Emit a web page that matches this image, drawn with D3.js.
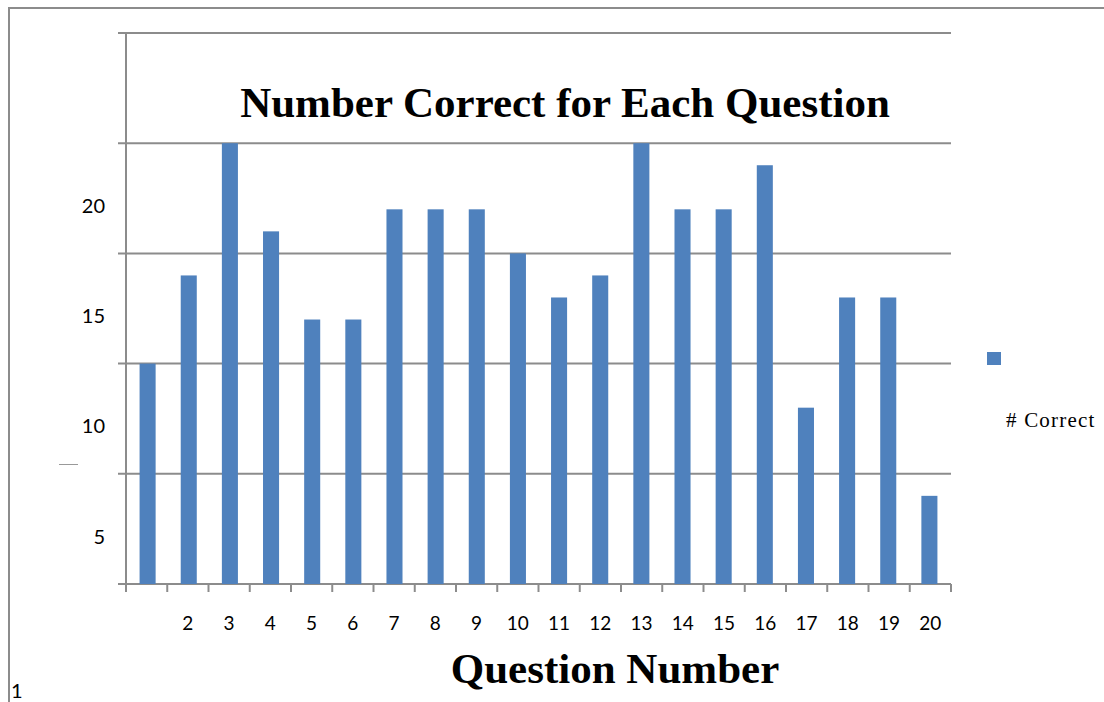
<html>
<head>
    <meta charset="utf-8">
    <style>
        body { margin: 0; background: white; }
        svg { display: block; }
    </style>
    <script src="https://d3js.org/d3.v7.min.js"></script>
</head>
<body>
    <svg id="chart"></svg>
<script>
    // DATA
    let questions = d3.range(1, 21)
    let numCorrect = [10, 14, 20, 16, 12, 12, 17, 17, 17, 15, 13, 14, 20, 17, 17, 19, 8, 13, 13, 4]
    let gridValues = [0, 5, 10, 15, 20, 25]
    let yTickLabels = [5, 10, 15, 20]
    let xTickLabels = ["", "2", "3", "4", "5", "6", "7", "8", "9", "10", "11", "12", "13", "14", "15", "16", "17", "18", "19", "20"]

    let width = 1104, height = 702
    let margin = { top: 33, left: 126, right: 153, bottom: 118 }
    let bodyWidth = width - margin.left - margin.right
    let bodyHeight = height - margin.top - margin.bottom
    let tickFont = "Lato, Open Sans, sans-serif"

    let svg = d3.select("#chart").attr("width", width).attr("height", height)

    // outer frame (top and left edges only visible)
    svg.append("line").attr("x1", 8).attr("x2", width).attr("y1", 8).attr("y2", 8)
        .attr("stroke", "#8c8c8c").attr("stroke-width", 2)
    svg.append("line").attr("x1", 9).attr("x2", 9).attr("y1", 8).attr("y2", height)
        .attr("stroke", "#8c8c8c").attr("stroke-width", 2)

    let xScale = d3.scaleBand().domain(questions).range([0, bodyWidth]).paddingInner(0.61).paddingOuter(0.33)
    let xTicks = d3.scaleLinear().domain([0, 20]).range([0, bodyWidth])
    let yScale = d3.scaleLinear().domain([0, 25]).range([bodyHeight, 0])

    let body = svg.append("g").attr("transform", `translate(${margin.left},${margin.top})`)

    // gridlines
    body.selectAll(".grid").data(gridValues).enter().append("line")
        .attr("x1", -8).attr("x2", bodyWidth)
        .attr("y1", d => yScale(d)).attr("y2", d => yScale(d))
        .attr("stroke", "#8c8c8c").attr("stroke-width", 2)

    // y axis line
    body.append("line").attr("x1", 0).attr("x2", 0).attr("y1", 0).attr("y2", bodyHeight + 8)
        .attr("stroke", "#8c8c8c").attr("stroke-width", 2)

    // x ticks
    body.selectAll(".xtick").data(d3.range(0, 21)).enter().append("line")
        .attr("x1", d => xTicks(d)).attr("x2", d => xTicks(d))
        .attr("y1", bodyHeight).attr("y2", bodyHeight + 8)
        .attr("stroke", "#8c8c8c").attr("stroke-width", 2)

    // bars
    body.selectAll(".bar").data(numCorrect).enter().append("rect")
        .attr("x", (d, i) => xScale(questions[i]))
        .attr("width", xScale.bandwidth())
        .attr("y", d => yScale(d))
        .attr("height", d => bodyHeight - yScale(d))
        .attr("fill", "#4f81bd")

    // x labels
    body.selectAll(".xlab").data(xTickLabels).enter().append("text")
        .attr("x", (d, i) => xTicks(i + 0.5))
        .attr("y", bodyHeight + 46)
        .attr("text-anchor", "middle")
        .attr("font-family", tickFont)
        .attr("font-size", 19)
        .text(d => d)

    // y labels (drawn offset from the gridlines, as in the source)
    body.selectAll(".ylab").data(yTickLabels).enter().append("text")
        .attr("x", -21)
        .attr("y", d => yScale(d - 2.85))
        .attr("dy", "0.35em")
        .attr("text-anchor", "end")
        .attr("font-family", tickFont)
        .attr("font-size", 20)
        .text(d => d)

    // title
    svg.append("text").attr("x", 565).attr("y", 117)
        .attr("text-anchor", "middle")
        .attr("font-family", "Liberation Serif, serif").attr("font-weight", "bold")
        .attr("font-size", 43)
        .text("Number Correct for Each Question")

    // x axis title
    svg.append("text").attr("x", 615).attr("y", 683)
        .attr("text-anchor", "middle")
        .attr("font-family", "Liberation Serif, serif").attr("font-weight", "bold")
        .attr("font-size", 43)
        .text("Question Number")

    // legend
    svg.append("rect").attr("x", 987).attr("y", 352).attr("width", 14).attr("height", 13).attr("fill", "#4f81bd")
    svg.append("text").attr("x", 1006).attr("y", 427)
        .attr("font-family", "Liberation Serif, serif").attr("font-size", 21)
        .attr("letter-spacing", 1.2)
        .text("# Correct")

    // stray marks
    svg.append("line").attr("x1", 59).attr("x2", 78).attr("y1", 464.5).attr("y2", 464.5)
        .attr("stroke", "#999").attr("stroke-width", 1)
    svg.append("text").attr("x", 11).attr("y", 698)
        .attr("font-family", tickFont).attr("font-size", 20)
        .text("1")
</script>
</body>
</html>
